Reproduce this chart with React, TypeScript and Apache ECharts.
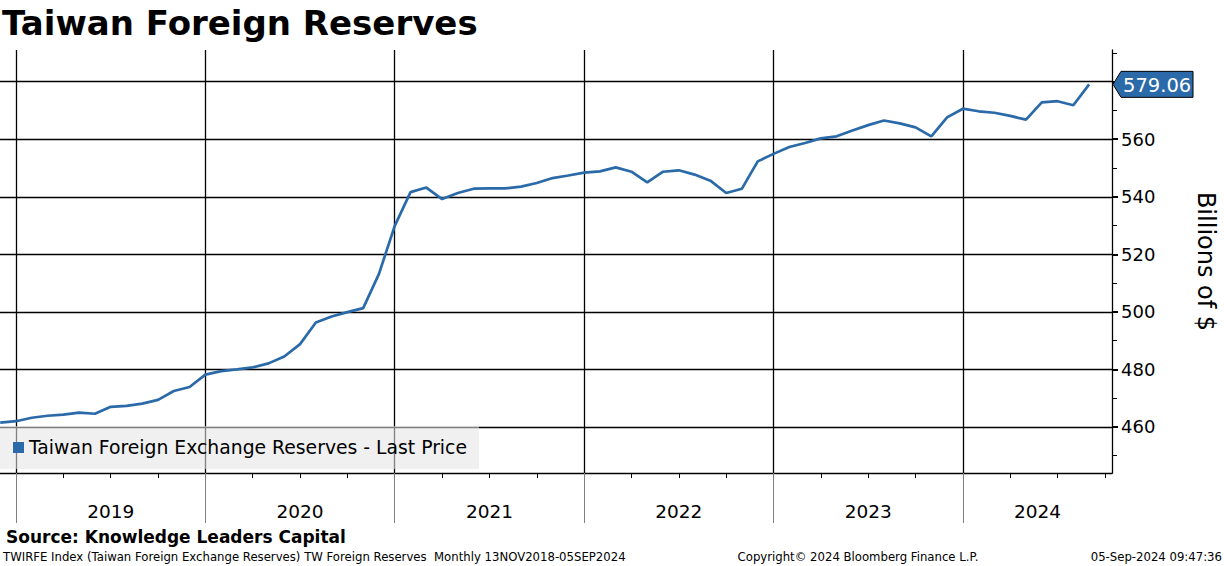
import React, { useEffect, useRef } from "react";
import * as echarts from "echarts";

const TITLE = "Taiwan Foreign Reserves";
const SERIES_NAME = "Taiwan Foreign Exchange Reserves - Last Price";
const Y_AXIS_NAME = "Billions of $";
const SOURCE = "Source: Knowledge Leaders Capital";
const FOOT_LEFT =
  "TWIRFE Index (Taiwan Foreign Exchange Reserves) TW Foreign Reserves  Monthly 13NOV2018-05SEP2024";
const FOOT_MID = "Copyright\u00a9 2024 Bloomberg Finance L.P.";
const FOOT_RIGHT = "05-Sep-2024 09:47:36";

// Year labels on the x axis
const years = [2019, 2020, 2021, 2022, 2023, 2024];

// Month-end values, billions of USD (Nov 2018 .. Aug 2024)
const reserves2018 = [461.5, 462.0];
const reserves2019 = [463.2, 463.9, 464.3, 465.0, 464.6, 467.0, 467.3, 468.1, 469.4, 472.5, 473.9, 478.2];
const reserves2020 = [479.4, 480.0, 480.7, 482.1, 484.5, 488.8, 496.3, 498.4, 499.9, 501.3, 513.2, 529.9];
const reserves2021 = [541.6, 543.2, 539.2, 541.3, 542.8, 542.9, 542.9, 543.5, 544.8, 546.5, 547.4, 548.4];
const reserves2022 = [548.8, 550.2, 548.7, 545.0, 548.7, 549.2, 547.7, 545.6, 541.3, 542.8, 552.3, 554.9];
const reserves2023 = [557.3, 558.7, 560.3, 561.0, 563.0, 564.9, 566.5, 565.5, 564.1, 561.0, 567.6, 570.6];
const reserves2024 = [569.7, 569.2, 568.1, 566.8, 572.8, 573.2, 571.8, 579.06];

// Y axis: gridline ticks, visible tick labels (580 is covered by the last-price tag), minor ticks
const yGridTicks = [460, 480, 500, 520, 540, 560, 580];
const yTickLabels = [460, 480, 500, 520, 540, 560];
const yMinorTicks = [450, 470, 490, 510, 530, 550, 570, 590];

const BLUE = "#2b6aa8";
const FONT = "DejaVu Sans";

export default function App() {
  const ref = useRef<HTMLDivElement>(null);

  useEffect(() => {
    const chart = echarts.init(ref.current!, null, { renderer: "svg" });
    const values = [
      ...reserves2018,
      ...reserves2019,
      ...reserves2020,
      ...reserves2021,
      ...reserves2022,
      ...reserves2023,
      ...reserves2024,
    ];
    // x = months after end of Dec 2018 (first point is end of Nov 2018)
    const data = values.map((v, i) => [i - 1, v]);
    const xMin = -1.014;
    const xMax = 69.45;
    const yMin = 444;
    const yMax = 591;
    const gridLeft = 0;
    const gridRight = 112;
    const gridWidth = 1224 - gridLeft - gridRight;
    const yearStarts = years.map((y) => (y - years[0]) * 12);
    const yearCenters = years.map((y) => {
      const s = (y - years[0]) * 12;
      return Math.min(s + 6, (s + xMax) / 2);
    });
    const quarterTicks: number[] = [];
    for (let q = 0; q <= xMax; q += 3) quarterTicks.push(q);

    chart.setOption({
      animation: false,
      backgroundColor: "#ffffff",
      textStyle: { fontFamily: FONT },
      title: {
        text: TITLE,
        left: 2,
        top: 6,
        padding: 0,
        textStyle: { fontFamily: FONT, fontSize: 34, fontWeight: "bold", color: "#000" },
      },
      legend: {
        left: 0,
        top: 426,
        padding: [12, 12, 12, 13],
        backgroundColor: "rgba(228,228,228,0.56)",
        itemWidth: 11,
        itemHeight: 11,
        icon: "rect",
        z: 10,
        selectedMode: false,
        textStyle: { fontSize: 18.8, color: "#000", fontFamily: FONT },
        data: [SERIES_NAME],
      },
      grid: {
        left: gridLeft,
        right: gridRight,
        top: 50,
        bottom: 93,
        containLabel: false,
        outerBoundsMode: "none",
      },
      xAxis: [
        {
          type: "value",
          min: xMin,
          max: xMax,
          position: "bottom",
          axisLine: { show: true, onZero: false, lineStyle: { color: "#000", width: 1.3 } },
          axisTick: { show: true, customValues: quarterTicks, length: 5, lineStyle: { color: "#000", width: 1 } },
          axisLabel: {
            show: true,
            customValues: yearCenters,
            formatter: (v: number) => String(years[0] + Math.floor(v / 12)),
            margin: 29,
            fontSize: 18.5,
            color: "#000",
            fontFamily: FONT,
          },
          splitLine: { show: false },
        },
        {
          type: "value",
          min: xMin,
          max: xMax,
          position: "bottom",
          axisLine: { show: false, onZero: false },
          axisLabel: { show: false },
          splitLine: { show: false },
          axisTick: { show: true, customValues: yearStarts, length: 50, lineStyle: { color: "#808080", width: 1 } },
        },
      ],
      yAxis: [
        {
          type: "value",
          position: "right",
          min: yMin,
          max: yMax,
          splitNumber: 7,
          axisLine: { show: true, onZero: false, lineStyle: { color: "#000", width: 1.3 } },
          axisTick: { show: true, customValues: yGridTicks, length: 6, lineStyle: { color: "#000", width: 2 } },
          axisLabel: {
            customValues: yTickLabels,
            margin: 9,
            fontSize: 18,
            color: "#000",
            fontFamily: FONT,
          },
          splitLine: { show: true, lineStyle: { color: "#000", width: 1.3 } },
          name: Y_AXIS_NAME,
          nameLocation: "middle",
          nameRotate: -90,
          nameGap: 82,
          nameTextStyle: { fontSize: 24, color: "#000", fontFamily: FONT },
        },
        {
          // minor ticks at the right edge of the plot (placed from the left side via offset)
          type: "value",
          position: "left",
          offset: -gridWidth,
          min: yMin,
          max: yMax,
          axisLine: { show: false, onZero: false },
          axisLabel: { show: false },
          splitLine: { show: false },
          axisTick: {
            show: true,
            inside: true,
            customValues: yMinorTicks,
            length: 5,
            lineStyle: { color: "#000", width: 1 },
          },
        },
      ],
      series: [
        {
          type: "line",
          name: "yearLines",
          data: [],
          silent: true,
          z: 1,
          markLine: {
            silent: true,
            symbol: ["none", "none"],
            label: { show: false },
            emphasis: { disabled: true },
            lineStyle: { color: "#000", width: 1.3, type: "solid" },
            data: yearStarts.map((v) => ({ xAxis: v })),
          },
        },
        {
          type: "line",
          name: SERIES_NAME,
          data,
          showSymbol: false,
          symbol: "none",
          z: 5,
          lineStyle: { color: BLUE, width: 2.7 },
          itemStyle: { color: BLUE },
        },
      ],
    });

    const last = values[values.length - 1];
    const [px, py] = chart.convertToPixel({ xAxisIndex: 0, yAxisIndex: 0 }, [xMax, last]) as number[];

    chart.setOption({
      graphic: [
        {
          type: "polygon",
          z: 20,
          shape: {
            points: [
              [px + 1, py],
              [px + 9, py - 13],
              [px + 81, py - 13],
              [px + 81, py + 13],
              [px + 9, py + 13],
            ],
          },
          style: { fill: BLUE, stroke: "#000", lineWidth: 1 },
        },
        {
          type: "text",
          z: 21,
          x: px + 11,
          y: py + 1,
          style: {
            text: last.toFixed(2),
            fill: "#fff",
            font: `19.5px '${FONT}'`,
            align: "left",
            verticalAlign: "middle",
            textAlign: "left",
            textVerticalAlign: "middle",
          },
        },
        {
          type: "text",
          x: 6,
          y: 537,
          style: {
            text: SOURCE,
            fill: "#000",
            font: `bold 17px '${FONT}'`,
            verticalAlign: "middle",
            textVerticalAlign: "middle",
          },
        },
        {
          type: "text",
          x: 3,
          y: 557,
          style: {
            text: FOOT_LEFT,
            fill: "#000",
            font: `11.7px '${FONT}'`,
            verticalAlign: "middle",
            textVerticalAlign: "middle",
          },
        },
        {
          type: "text",
          x: 858,
          y: 557,
          style: {
            text: FOOT_MID,
            fill: "#000",
            font: `11.7px '${FONT}'`,
            align: "center",
            textAlign: "center",
            verticalAlign: "middle",
            textVerticalAlign: "middle",
          },
        },
        {
          type: "text",
          x: 1222,
          y: 557,
          style: {
            text: FOOT_RIGHT,
            fill: "#000",
            font: `11.7px '${FONT}'`,
            align: "right",
            textAlign: "right",
            verticalAlign: "middle",
            textVerticalAlign: "middle",
          },
        },
      ],
    });

    return () => chart.dispose();
  }, []);

  return (
    <div
      ref={ref}
      style={{ position: "absolute", left: 0, top: 0, width: 1224, height: 566, background: "#fff" }}
    />
  );
}
